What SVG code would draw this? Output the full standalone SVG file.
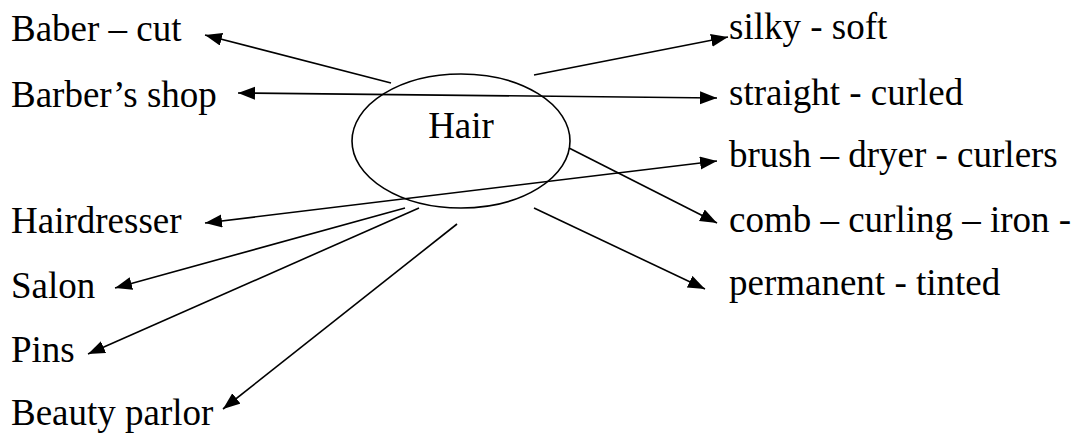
<svg xmlns="http://www.w3.org/2000/svg" width="1081" height="435" viewBox="0 0 1081 435">
<style>
text{font-family:"Liberation Serif","Times New Roman",serif;font-size:37px;fill:#000}
.c line{stroke:#000;stroke-width:1.6;fill:none}
.e{fill:none;stroke:#000;stroke-width:1.6}
</style>
<defs>
<marker id="ah" markerUnits="userSpaceOnUse" markerWidth="18" markerHeight="14" refX="17" refY="6.5" orient="auto-start-reverse">
<path d="M0,0 L17,6.5 L0,13 z" fill="#000"/>
</marker>
</defs>
<rect width="1081" height="435" fill="#fff"/>
<g id="hair">
<ellipse class="e" cx="461" cy="141" rx="109" ry="67"/>
<text x="461" y="138" text-anchor="middle">Hair</text>
</g>
<g id="baber-cut"><text x="11" y="41">Baber – cut</text></g>
<g id="barbers-shop"><text x="11" y="107">Barber’s shop</text></g>
<g id="hairdresser"><text x="11" y="233">Hairdresser</text></g>
<g id="salon"><text x="11" y="298">Salon</text></g>
<g id="pins"><text x="11" y="362">Pins</text></g>
<g id="beauty-parlor"><text x="11" y="425">Beauty parlor</text></g>
<g id="silky-soft"><text x="729" y="39">silky - soft</text></g>
<g id="straight-curled"><text x="729" y="105">straight - curled</text></g>
<g id="brush-dryer-curlers"><text x="729" y="167">brush – dryer - curlers</text></g>
<g id="comb-curling-iron"><text x="729" y="232">comb – curling – iron -</text></g>
<g id="permanent-tinted"><text x="729" y="295">permanent - tinted</text></g>
<g id="connectors" class="c">
<line x1="391" y1="83" x2="205" y2="35" marker-end="url(#ah)"/>
<line x1="238" y1="93" x2="717" y2="98" marker-start="url(#ah)" marker-end="url(#ah)"/>
<line x1="534" y1="75" x2="728" y2="37" marker-end="url(#ah)"/>
<line x1="569" y1="148" x2="717" y2="223" marker-end="url(#ah)"/>
<line x1="205" y1="223" x2="717" y2="161" marker-start="url(#ah)" marker-end="url(#ah)"/>
<line x1="405" y1="208" x2="115" y2="288" marker-end="url(#ah)"/>
<line x1="419" y1="208" x2="88" y2="354" marker-end="url(#ah)"/>
<line x1="457" y1="224" x2="223" y2="409" marker-end="url(#ah)"/>
<line x1="534" y1="208" x2="705" y2="289" marker-end="url(#ah)"/>
</g>
</svg>
